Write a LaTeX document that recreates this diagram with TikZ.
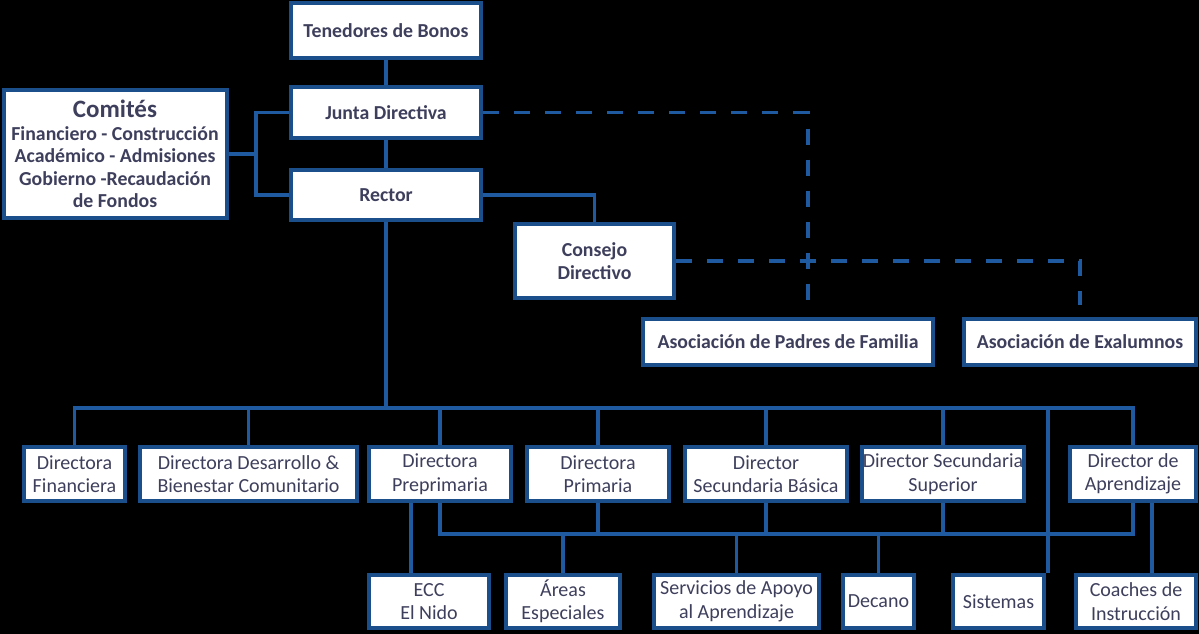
\documentclass[tikz,border=0pt]{standalone}
\usepackage{fontspec}
\setmainfont{Carlito}
\usetikzlibrary{calc}

\definecolor{orgline}{HTML}{1F5AA0}
\definecolor{orgborder}{HTML}{1B4F8C}
\definecolor{orgtext}{HTML}{3E3F5C}

\begin{document}
\begin{tikzpicture}[
    x=1pt,
    y=-1pt,
    line cap=butt,
    line join=miter,
    box/.style={
        draw=orgborder,
        line width=4pt,
        fill=white,
        text=orgtext,
        inner sep=0pt,
        align=center,
        font=\fontsize{20}{23.5}\selectfont
    },
    topbox/.style={
        box,
        font=\fontsize{19.8}{22.5}\selectfont\bfseries
    },
    link/.style={
        draw=orgline,
        line width=3.2pt
    },
    dashlink/.style={
        draw=orgline,
        line width=3.2pt,
        dash pattern=on 16pt off 15pt
    }
]

% =================================================
% Fondo y margenes
% =================================================

\fill[black] (0,0) rectangle (1199,634);
\useasboundingbox (0,0) rectangle (1199,634);

% =================================================
% Organos de gobierno
% =================================================

\node[topbox, minimum width=190, minimum height=55] (tenedores) at (386,30.5) {Tenedores de Bonos};
\node[topbox, minimum width=190, minimum height=51] (junta)     at (386,112.5) {Junta Directiva};
\node[topbox, minimum width=190, minimum height=50] (rector)    at (386,195) {Rector};
\node[topbox, minimum width=223, minimum height=128] (comites)  at (115,154)
    {{\fontsize{25}{26}\selectfont Comités}\\Financiero - Construcción\\Académico - Admisiones\\Gobierno -Recaudación\\de Fondos};
\node[topbox, minimum width=159, minimum height=74] (consejo)   at (594.5,261) {Consejo\\Directivo};
\node[topbox, minimum width=290, minimum height=46] (padres)    at (788,342) {Asociación de Padres de Familia};
\node[topbox, minimum width=232, minimum height=46] (exalumnos) at (1080,342) {Asociación de Exalumnos};

% =================================================
% Directores
% =================================================

\node[box, minimum width=101, minimum height=54] (financiera)  at (74.5,474) {Directora\\Financiera};
\node[box, minimum width=217, minimum height=54] (desarrollo)  at (248.5,474) {Directora Desarrollo \&\\Bienestar Comunitario};
\node[box, minimum width=142, minimum height=54] (preprimaria) at (440,474) {Directora\\Preprimaria};
\node[box, minimum width=142, minimum height=54] (primaria)    at (598,474) {Directora\\Primaria};
\node[box, minimum width=162, minimum height=54] (basica)      at (766,474) {Director\\Secundaria Básica};
\node[box, minimum width=162, minimum height=54] (superior)    at (943,474) {Director Secundaria\\Superior};
\node[box, minimum width=126, minimum height=54] (aprendizaje) at (1133,474) {Director de\\Aprendizaje};

% =================================================
% Servicios
% =================================================

\node[box, minimum width=120, minimum height=53] (ecc)       at (429,601.5) {ECC\\El Nido};
\node[box, minimum width=114, minimum height=53] (areas)     at (563,601.5) {Áreas\\Especiales};
\node[box, minimum width=165, minimum height=53] (servicios) at (736.5,601.5) {Servicios de Apoyo\\al Aprendizaje};
\node[box, minimum width=71,  minimum height=53] (decano)    at (878.5,601.5) {Decano};
\node[box, minimum width=91,  minimum height=53] (sistemas)  at (998.5,601.5) {Sistemas};
\node[box, minimum width=120, minimum height=53] (coaches)   at (1136,601.5) {Coaches de\\Instrucción};

% =================================================
% Puntos de union
% =================================================

\coordinate (cj)      at (256,154);
\coordinate (pj)      at (808,312);
\coordinate (ex)      at (1080,305);
\coordinate (bus)     at (386,408);
\coordinate (lbus)    at (738,534);
\coordinate (sis)     at (1048,573);
\coordinate (eccin)   at (411,573);
\coordinate (coachin) at (1152,573);

% =================================================
% Conexiones de gobierno
% =================================================

\draw[link] (tenedores) -- (junta);
\draw[link] (junta) -- (rector);
\draw[link] (comites.east) -- (cj);
\draw[link] (junta.west) -| (cj) |- (rector.west);
\draw[link] (rector.east) -| (consejo.north);

% Relaciones de coordinacion
\draw[dashlink] (junta.east) -| (pj);
\draw[dashlink] (consejo.east) -| (ex);

% =================================================
% Conexiones de directores y servicios
% =================================================

\draw[link] (rector.south) -- (bus);
\foreach \n in {financiera,desarrollo,preprimaria,primaria,basica,superior,aprendizaje}
    \draw[link] (bus) -| (\n.north);
\draw[link] (bus) -| (sis);

\foreach \n in {preprimaria,primaria,basica,superior,aprendizaje}
    \draw[link] (\n.south) |- (lbus);
\foreach \n in {areas,servicios,decano}
    \draw[link] (lbus) -| (\n.north);

\draw[link] (preprimaria.south -| eccin) -- (eccin);
\draw[link] (aprendizaje.south -| coachin) -- (coachin);

\end{tikzpicture}
\end{document}
